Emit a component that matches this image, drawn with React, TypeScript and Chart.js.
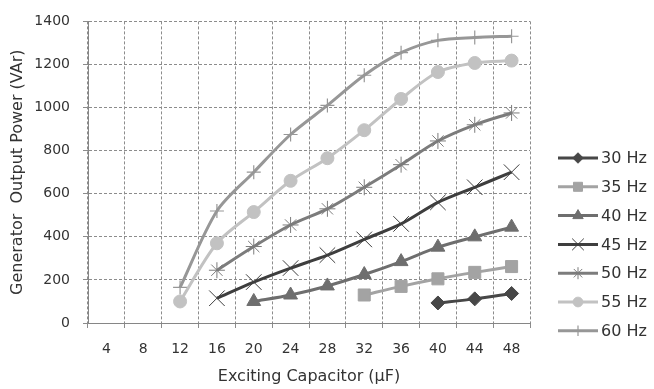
import React, { useEffect, useRef } from 'react';
import { Chart, registerables } from 'chart.js';
import { drawPoint } from 'chart.js/helpers';

Chart.register(...registerables);

const categories = ['4', '8', '12', '16', '20', '24', '28', '32', '36', '40', '44', '48'];
const yTicks = [0, 200, 400, 600, 800, 1000, 1200, 1400];

const hz30 = [null, null, null, null, null, null, null, null, null, 93, 112, 137];
const hz35 = [null, null, null, null, null, null, null, 130, 170, 205, 235, 262];
const hz40 = [null, null, null, null, 100, 130, 172, 225, 285, 352, 400, 445];
const hz45 = [null, null, null, 115, 190, 255, 315, 388, 460, 560, 630, 700];
const hz50 = [null, null, null, 245, 355, 455, 530, 630, 735, 845, 920, 975];
const hz55 = [null, null, 100, 370, 515, 660, 765, 895, 1040, 1165, 1207, 1218];
const hz60 = [null, null, 165, 520, 700, 875, 1010, 1150, 1255, 1312, 1325, 1331];

const seriesNames = ['30 Hz', '35 Hz', '40 Hz', '45 Hz', '50 Hz', '55 Hz', '60 Hz'];

const FONT = '"DejaVu Sans", sans-serif';
const TEXT = '#333333';

type Style = { color: string; point: string; radius: number; pw: number };
const styles: Style[] = [
  { color: '#474747', point: 'rectRot', radius: 7, pw: 1 },
  { color: '#a3a3a3', point: 'rect', radius: 8.5, pw: 1 },
  { color: '#6e6e6e', point: 'triangle', radius: 8, pw: 1 },
  { color: '#3e3e3e', point: 'crossRot', radius: 11, pw: 1 },
  { color: '#7c7c7c', point: 'star', radius: 8, pw: 1 },
  { color: '#c2c2c2', point: 'circle', radius: 6.5, pw: 1 },
  { color: '#979797', point: 'cross', radius: 7, pw: 1.2 },
];

const legendPlugin = {
  id: 'sideLegend',
  afterDraw(chart: any) {
    const ctx = chart.ctx;
    const x0 = chart.chartArea.right + 28;
    const y0 = 158;
    const step = 28.8;
    ctx.save();
    styles.forEach((s, i) => {
      const y = y0 + i * step;
      ctx.setLineDash([]);
      ctx.strokeStyle = s.color;
      ctx.lineWidth = 3;
      ctx.beginPath();
      ctx.moveTo(x0, y);
      ctx.lineTo(x0 + 40, y);
      ctx.stroke();
      ctx.fillStyle = s.color;
      ctx.strokeStyle = s.color;
      ctx.lineWidth = s.pw;
      drawPoint(ctx, { pointStyle: s.point as any, radius: s.radius * 0.75, rotation: 0, borderWidth: s.pw }, x0 + 20, y);
      ctx.fillStyle = TEXT;
      ctx.font = `16px ${FONT}`;
      ctx.textAlign = 'left';
      ctx.textBaseline = 'middle';
      ctx.fillText(seriesNames[i], x0 + 43, y + 1);
    });
    ctx.restore();
  },
};

export default function App() {
  const ref = useRef<HTMLCanvasElement | null>(null);
  useEffect(() => {
    if (!ref.current) return;
    const all = [hz30, hz35, hz40, hz45, hz50, hz55, hz60];
    const chart = new Chart(ref.current, {
      type: 'line',
      data: {
        labels: categories,
        datasets: all.map((d, i) => ({
          label: seriesNames[i],
          data: d as any,
          borderColor: styles[i].color,
          backgroundColor: styles[i].color,
          borderWidth: 3,
          pointStyle: styles[i].point as any,
          pointRadius: styles[i].radius,
          pointBorderWidth: styles[i].pw,
          pointBackgroundColor: styles[i].color,
          pointBorderColor: styles[i].color,
          tension: 0.3,
          spanGaps: false,
        })),
      },
      options: {
        animation: false,
        responsive: true,
        maintainAspectRatio: false,
        layout: { padding: { top: 16, right: 124, left: 0, bottom: 0 } },
        plugins: {
          legend: { display: false },
          tooltip: { enabled: false },
        },
        scales: {
          x: {
            type: 'category',
            offset: true,
            grid: {
              offset: true,
              color: '#8c8c8c',
              lineWidth: 1,
              tickLength: 5,
              tickColor: '#8c8c8c',
              tickBorderDash: [],
            } as any,
            border: { display: true, color: '#868686', width: 1, dash: [3, 2] } as any,
            ticks: {
              color: TEXT,
              font: { family: FONT, size: 14 },
              padding: 13,
              maxRotation: 0,
              autoSkip: false,
            },
            title: {
              display: true,
              text: 'Exciting Capacitor (µF)',
              color: TEXT,
              font: { family: FONT, size: 16 },
              padding: { top: 0, bottom: 3 },
            },
            afterFit(scale: any) {
              scale.height = 66;
            },
          },
          y: {
            min: 0,
            max: 1400,
            afterBuildTicks(scale: any) {
              scale.ticks = yTicks.map((v) => ({ value: v }));
            },
            grid: {
              color: '#8c8c8c',
              lineWidth: 1,
              tickLength: 5,
              tickColor: '#8c8c8c',
              tickBorderDash: [],
            } as any,
            border: { display: true, color: '#868686', width: 1, dash: [3, 2] } as any,
            ticks: {
              color: TEXT,
              font: { family: FONT, size: 14 },
              padding: 13,
              callback: (v: any) => String(v),
            },
            title: {
              display: true,
              text: 'Generator  Output Power (VAr)',
              color: TEXT,
              font: { family: FONT, size: 16 },
              padding: { top: 8, bottom: 0 },
            },
            afterFit(scale: any) {
              scale.width = 88;
            },
          },
        },
      },
      plugins: [legendPlugin],
    });
    return () => chart.destroy();
  }, []);

  return (
    <div style={{ position: 'fixed', left: 0, top: 0, width: 654, height: 389, background: '#fff' }}>
      <canvas ref={ref} />
    </div>
  );
}
